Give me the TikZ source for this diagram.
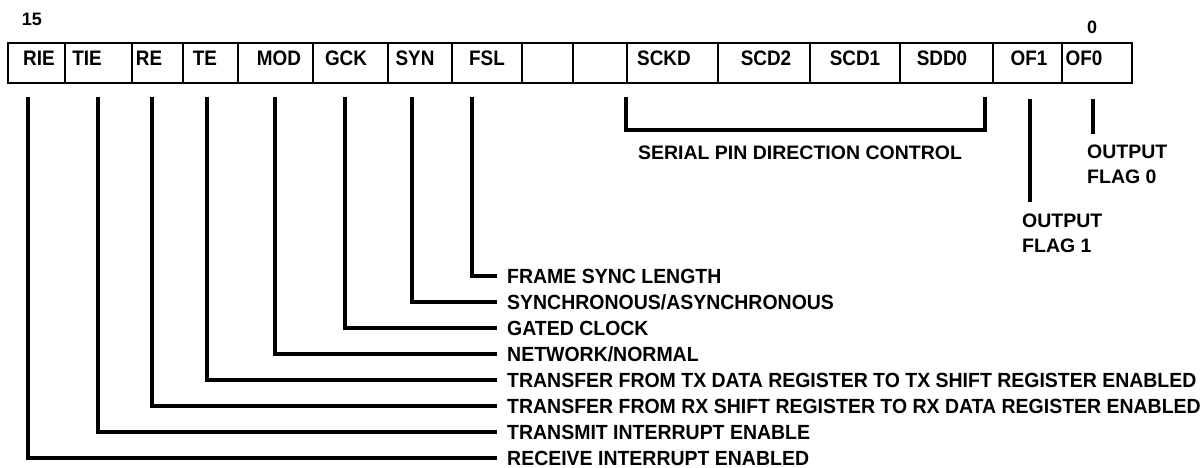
\documentclass[tikz,border=0pt]{standalone}
\usepackage{fontspec}
\setmainfont{Liberation Sans}
\newfontfamily\condfont[FakeStretch=0.95]{Liberation Sans}
\newfontfamily\narrowfont[FakeStretch=0.9]{Liberation Sans}
\begin{document}
\begin{tikzpicture}[x=1pt,y=-1pt,
  cell/.style={draw=black, line width=2.8pt, inner sep=0pt, minimum height=40pt},
  lbl/.style={font=\narrowfont\fontsize{21}{21}\selectfont\bfseries, inner sep=0pt, text height=15pt, text depth=0pt},
  bitno/.style={font=\fontsize{18}{18}\selectfont\bfseries, inner sep=0pt},
  desc/.style={font=\condfont\fontsize{20.5}{20.5}\selectfont\bfseries, anchor=west, inner xsep=10pt, inner ysep=0pt, text height=14.7pt, text depth=0pt},
  conn/.style={line width=3.2pt, line cap=butt},
  note/.style={font=\fontsize{19.5}{25}\selectfont\bfseries, align=left, inner sep=0pt}]
\useasboundingbox (0,0) rectangle (1204,468);
% register cells
\foreach \n/\l/\r in {rie/8/65, tie/65/132, re/132/183, te/183/238, mod/238/313, gck/313/388,
  syn/388/452, fsl/452/522, ea/522/573, eb/573/627, sckd/627/718, scdtwo/718/810,
  scdone/810/900, sddzero/900/993, ofone/993/1062, ofzero/1062/1132}
  \node[cell, minimum width={(\r-\l)*1pt}] (\n) at ({(\l+\r)/2},63) {};
% cell labels
\node[lbl] (rie-t) at (39,58) {RIE};
\node[lbl] (tie-t) at (87,58) {TIE};
\node[lbl] (re-t) at (149,58) {RE};
\node[lbl] (te-t) at (205,58) {TE};
\node[lbl] (mod-t) at (279,58) {MOD};
\node[lbl] (gck-t) at (346,58) {GCK};
\node[lbl] (syn-t) at (415,58) {SYN};
\node[lbl] (fsl-t) at (487,58) {FSL};
\node[lbl] (sckd-t) at (664,58) {SCKD};
\node[lbl] (scdtwo-t) at (766,58) {SCD2};
\node[lbl] (scdone-t) at (855,58) {SCD1};
\node[lbl] (sddzero-t) at (942,58) {SDD0};
\node[lbl] (ofone-t) at (1029,58) {OF1};
\node[lbl] (ofzero-t) at (1084,58) {OF0};
% bit numbers
\node[bitno] (b15) at (32,19) {15};
\node[bitno] (b0) at (1092,27) {0};
% descriptions
\node[desc] (fsl-d) at (497,276) {FRAME SYNC LENGTH};
\node[desc] (syn-d) at (497,302) {SYNCHRONOUS/ASYNCHRONOUS};
\node[desc] (gck-d) at (497,328) {GATED CLOCK};
\node[desc] (mod-d) at (497,354) {NETWORK/NORMAL};
\node[desc] (te-d) at (497,380) {TRANSFER FROM TX DATA REGISTER TO TX SHIFT REGISTER ENABLED};
\node[desc] (re-d) at (497,406) {TRANSFER FROM RX SHIFT REGISTER TO RX DATA REGISTER ENABLED};
\node[desc] (tie-d) at (497,432) {TRANSMIT INTERRUPT ENABLE};
\node[desc] (rie-d) at (497,458) {RECEIVE INTERRUPT ENABLED};
% connector start points
\foreach \n/\x in {rie/28, tie/98, re/152, te/207, mod/275, gck/345, syn/412, fsl/472}
  \coordinate (\n-p) at (\x,97);
\foreach \n in {rie, tie, re, te, mod, gck, syn, fsl}
  \draw[conn] (\n-p) |- (\n-d.west);
% serial pin direction bracket
\coordinate (br-l) at (626,97);
\coordinate (br-r) at (985,97);
\draw[conn] (br-l) -- (626,130) -| (br-r);
\node[note] (spdc) at (800,153) {SERIAL PIN DIRECTION CONTROL};
% output flags
\node[note, anchor=north west] (of1-d) at (1022,214) {OUTPUT\\FLAG 1};
\node[note, anchor=north west] (of0-d) at (1087,145) {OUTPUT\\FLAG 0};
\coordinate (of1-p) at (1030,99);
\coordinate (of0-p) at (1093,99);
\draw[conn] (of1-p) -- (of1-p |- 0,202);
\draw[conn] (of0-p) -- (of0-p |- 0,134);
\end{tikzpicture}
\end{document}
